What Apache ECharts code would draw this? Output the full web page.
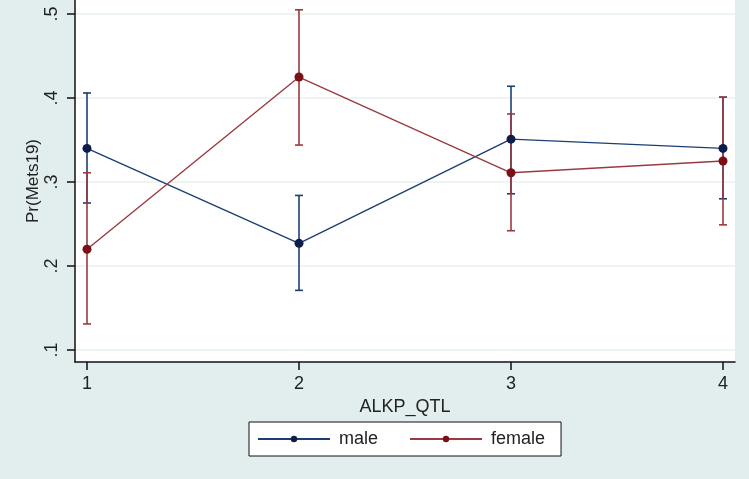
<!DOCTYPE html>
<html>
<head>
<meta charset="utf-8">
<script src="https://cdn.jsdelivr.net/npm/echarts@6/dist/echarts.min.js"></script>
<style>html,body{margin:0;padding:0;background:#e2edee;}#c{width:749px;height:479px;}</style>
</head>
<body>
<div id="c"></div>
<script>
const categories = [1, 2, 3, 4];
const maleMean = [0.340, 0.227, 0.351, 0.340];
const maleLow  = [0.275, 0.171, 0.286, 0.280];
const maleHigh = [0.406, 0.284, 0.414, 0.401];
const femaleMean = [0.220, 0.425, 0.311, 0.325];
const femaleLow  = [0.131, 0.344, 0.242, 0.249];
const femaleHigh = [0.311, 0.505, 0.381, 0.401];
const yTicks = [0.1, 0.2, 0.3, 0.4, 0.5];

const MALE = '#1c3f73', MALE_M = '#0d1d4b';
const FEMALE = '#9a3a40', FEMALE_M = '#7a1016';
const FONT = '"Liberation Sans", Arial, sans-serif';

function errSeries(name, lows, highs, color) {
  return {
    type: 'custom', name: name + '_ci', z: 2, silent: true,
    data: categories.map((c, i) => [c, lows[i], highs[i]]),
    renderItem: function (params, api) {
      const lo = api.coord([api.value(0), api.value(1)]);
      const hi = api.coord([api.value(0), api.value(2)]);
      const w = 4;
      const st = { stroke: color, lineWidth: 1.6 };
      return { type: 'group', children: [
        { type: 'line', shape: { x1: lo[0], y1: lo[1], x2: hi[0], y2: hi[1] }, style: st },
        { type: 'line', shape: { x1: lo[0] - w, y1: lo[1], x2: lo[0] + w, y2: lo[1] }, style: st },
        { type: 'line', shape: { x1: hi[0] - w, y1: hi[1], x2: hi[0] + w, y2: hi[1] }, style: st }
      ]};
    }
  };
}

const chart = echarts.init(document.getElementById('c'));
chart.setOption({
  backgroundColor: '#e2edee',
  animation: false,
  grid: { left: 75, right: 14, top: 0, bottom: 117, show: true, backgroundColor: '#ffffff', borderWidth: 0 },
  legend: {
    left: 249, top: 422,
    data: ['male', 'female'],
    itemWidth: 72, itemHeight: 8, itemGap: 31,
    backgroundColor: '#ffffff', borderColor: '#111', borderWidth: 1,
    padding: [8, 16, 8, 8],
    textStyle: { fontFamily: FONT, fontSize: 18, color: '#222', padding: [0, 0, 0, 4] }
  },
  xAxis: {
    type: 'value', min: 0.9434, max: 4.0566,
    name: 'ALKP_QTL', nameLocation: 'middle', nameGap: 32,
    nameTextStyle: { fontFamily: FONT, fontSize: 18, color: '#222' },
    axisLine: { show: true, lineStyle: { color: '#111', width: 1.5 } },
    axisTick: { show: true, length: 8, customValues: categories, lineStyle: { color: '#111', width: 1.5 } },
    axisLabel: { customValues: categories, margin: 13, fontFamily: FONT, fontSize: 18, color: '#222' },
    splitLine: { show: false }
  },
  yAxis: {
    type: 'value', min: 0.0857, max: 0.5167,
    name: 'Pr(Mets19)', nameLocation: 'middle', nameGap: 33, nameMoveOverlap: false,
    nameTextStyle: { fontFamily: FONT, fontSize: 17, color: '#222' },
    axisLine: { show: true, lineStyle: { color: '#111', width: 1.5 } },
    axisTick: { show: true, length: 8, customValues: yTicks, lineStyle: { color: '#111', width: 1.5 } },
    axisLabel: { customValues: yTicks, rotate: 90, margin: 14, fontFamily: FONT, fontSize: 18, color: '#222',
      formatter: v => '.' + Math.round(v * 10) },
    splitLine: { show: true, lineStyle: { color: '#e6f0f1', width: 1.5 } }
  },
  series: [
    errSeries('male', maleLow, maleHigh, MALE),
    errSeries('female', femaleLow, femaleHigh, FEMALE),
    {
      type: 'line', name: 'male', z: 3,
      data: categories.map((c, i) => [c, maleMean[i]]),
      symbol: 'circle', symbolSize: 9,
      lineStyle: { color: MALE, width: 1.4 },
      itemStyle: { color: MALE_M }
    },
    {
      type: 'line', name: 'female', z: 3,
      data: categories.map((c, i) => [c, femaleMean[i]]),
      symbol: 'circle', symbolSize: 9,
      lineStyle: { color: FEMALE, width: 1.4 },
      itemStyle: { color: FEMALE_M }
    }
  ]
});
</script>
</body>
</html>
